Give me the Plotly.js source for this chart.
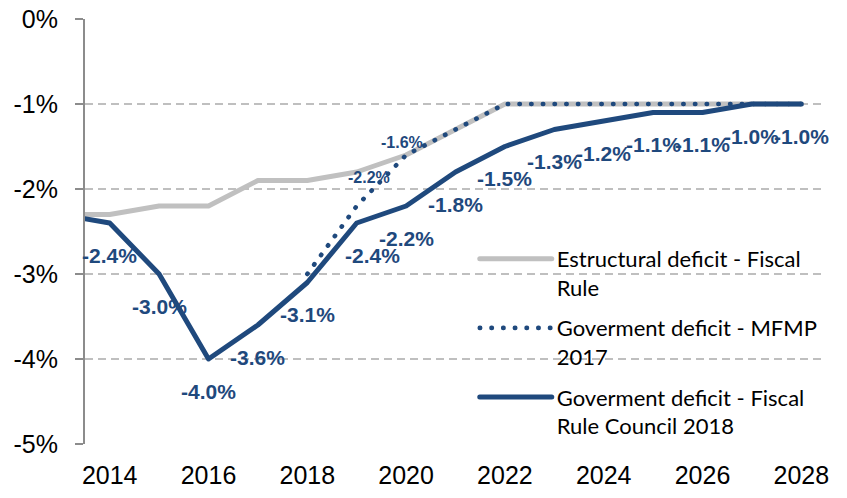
<!DOCTYPE html>
<html>
<head>
<meta charset="utf-8">
<script src="https://cdn.plot.ly/plotly-3.0.1.min.js"></script>
<style>
html,body{margin:0;padding:0;background:#fff;}
#chart{width:847px;height:498px;}
#chart path.js-line{stroke-linecap:round;stroke-linejoin:round;}
</style>
</head>
<body>
<div id="chart"></div>
<script>
// ---- data ----
var years = [2013, 2014, 2015, 2016, 2017, 2018, 2019, 2020, 2021, 2022, 2023, 2024, 2025, 2026, 2027, 2028];
var structuralDeficit = [-2.3, -2.3, -2.2, -2.2, -1.9, -1.9, -1.8, -1.6, -1.3, -1.0, -1.0, -1.0, -1.0, -1.0, -1.0, -1.0];
var mfmpYears = [2018, 2019, 2020, 2021, 2022, 2023, 2024, 2025, 2026, 2027, 2028];
var mfmpDeficit = [-3.0, -2.2, -1.6, -1.3, -1.0, -1.0, -1.0, -1.0, -1.0, -1.0, -1.0];
var councilDeficit = [-2.3, -2.4, -3.0, -4.0, -3.6, -3.1, -2.4, -2.2, -1.8, -1.5, -1.3, -1.2, -1.1, -1.1, -1.0, -1.0];
var mfmpLabelYears = [2019, 2020];
var seriesNames = ['Estructural deficit - Fiscal<br>Rule', 'Goverment deficit - MFMP<br>2017', 'Goverment deficit - Fiscal<br>Rule Council 2018'];
var xTickVals = [2014, 2016, 2018, 2020, 2022, 2024, 2026, 2028];
var yTickVals = [0, -1, -2, -3, -4, -5];
var yTickText = ['0%', '-1%', '-2%', '-3%', '-4%', '-5%'];

// ---- styles ----
var BLUE = '#1F497D';
var GRAY = '#C0C0C0';
var AXIS = '#8C8C8C';
var ARIAL = '"Liberation Sans", Arial, sans-serif';

var traces = [
  {x: years, y: structuralDeficit, name: seriesNames[0], legendgroup: 'a', mode: 'lines', line: {color: GRAY, width: 5}, hoverinfo: 'skip'},
  {x: mfmpYears, y: mfmpDeficit, name: seriesNames[1], legendgroup: 'b', mode: 'lines', line: {color: BLUE, width: 4.6, dash: '0.4px,11.3px'}, hoverinfo: 'skip'},
  {x: years, y: councilDeficit, name: seriesNames[2], legendgroup: 'c', mode: 'lines', line: {color: BLUE, width: 5}, hoverinfo: 'skip'}
];

function fmt(v) { return v.toFixed(1) + '%'; }

var annotations = [];
var councilShift = {2019: 16};
years.forEach(function (yr, i) {
  if (yr < 2014) return;
  annotations.push({x: yr, y: councilDeficit[i], xref: 'x', yref: 'y', text: fmt(councilDeficit[i]),
    showarrow: false, xshift: councilShift[yr] || 0, yshift: -32,
    font: {family: ARIAL, size: 21, color: BLUE, weight: 'bold'}});
});
var mfmpShift = {2019: [12, 29], 2020: [-4, 13]};
mfmpYears.forEach(function (yr, i) {
  if (mfmpLabelYears.indexOf(yr) < 0) return;
  annotations.push({x: yr, y: mfmpDeficit[i], xref: 'x', yref: 'y', text: fmt(mfmpDeficit[i]),
    showarrow: false, xshift: mfmpShift[yr][0], yshift: mfmpShift[yr][1],
    font: {family: ARIAL, size: 16, color: BLUE, weight: 'bold'}});
});

var layout = {
  width: 847, height: 498,
  margin: {l: 85, r: 21, t: 19, b: 54},
  paper_bgcolor: '#fff', plot_bgcolor: '#fff',
  showlegend: true,
  font: {family: ARIAL, color: '#000'},
  xaxis: {
    range: [2013.5, 2028.5], tickvals: xTickVals, ticktext: xTickVals.map(String),
    showgrid: false, zeroline: false, showline: false, ticks: '',
    tickfont: {size: 25, family: ARIAL, color: '#000'},
    ticklabelstandoff: 14
  },
  xaxis2: {
    overlaying: 'x', side: 'top', anchor: 'y', range: [2013.5, 2028.5],
    tickvals: [2015.5, 2017.5, 2019.5, 2021.5, 2023.5, 2025.5, 2027.5],
    showticklabels: false, ticks: 'inside', ticklen: 7, tickwidth: 2, tickcolor: AXIS,
    showline: true, linecolor: AXIS, linewidth: 2, showgrid: false, zeroline: false
  },
  yaxis: {
    range: [-5, 0], tickvals: yTickVals, ticktext: yTickText,
    showgrid: true, gridcolor: '#BFBFBF', griddash: '8px,5px', gridwidth: 1.5,
    zeroline: false, showline: true, linecolor: AXIS, linewidth: 2,
    ticks: 'outside', ticklen: 8, tickwidth: 2, tickcolor: AXIS,
    tickfont: {size: 25, family: ARIAL, color: '#000'},
    ticklabelstandoff: 12
  },
  legend: {
    x: 0.526, y: 0.485, xanchor: 'left', yanchor: 'top',
    bgcolor: 'rgba(0,0,0,0)', borderwidth: 0, itemwidth: 72, valign: 'top',
    font: {family: 'Lato, Carlito, sans-serif', size: 22, color: '#000'},
    traceorder: 'grouped', tracegroupgap: 9
  },
  annotations: annotations
};

Plotly.newPlot('chart', traces, layout, {displayModeBar: false, staticPlot: true});
</script>
</body>
</html>
